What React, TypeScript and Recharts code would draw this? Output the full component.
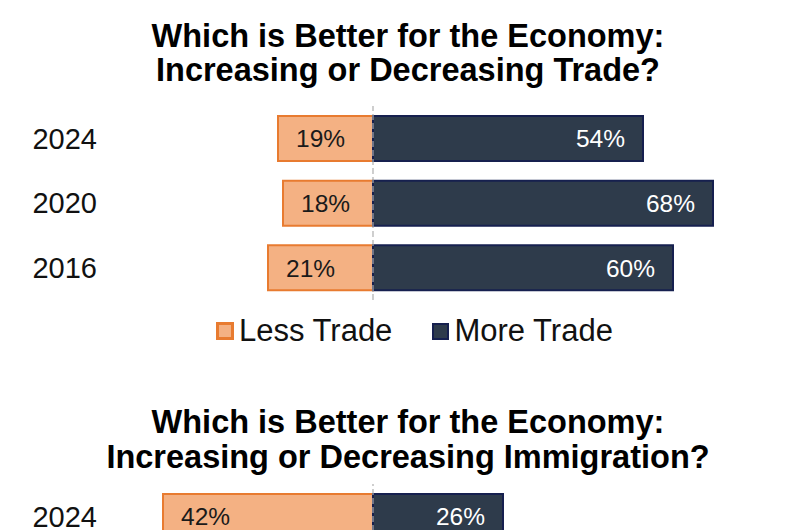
import { BarChart, Bar, XAxis, YAxis, ReferenceLine, LabelList, Legend } from "recharts";

const tradeYears = ["2024", "2020", "2016"];
const tradeLess = [19, 18, 21];
const tradeMore = [54, 68, 60];

const immYears = ["2024"];
const immLess = [42];
const immMore = [26];

const LESS_FILL = "#F4B183";
const LESS_STROKE = "#E87B30";
const MORE_FILL = "#2E3B4B";
const MORE_STROKE = "#16204F";
const FONT = "'Liberation Sans', Arial, sans-serif";

const toRows = (years: string[], less: number[], more: number[]) =>
  years.map((year, i) => ({ year, less: -less[i], more: more[i] }));

const YearTick = (props: any) => {
  const { x, y, payload } = props;
  return (
    <text x={x} y={y} dy="0.36em" textAnchor="end" fontSize={29} fill="#111" fontFamily={FONT}>
      {payload.value}
    </text>
  );
};

const LessLabel = (props: any) => {
  const { x, y, width, height, value } = props;
  const left = Math.min(x, x + width);
  return (
    <text x={left + 18} y={y + height / 2} dy="0.36em" textAnchor="start" fontSize={24.5} fill="#1a1a1a" fontFamily={FONT}>
      {Math.abs(value)}%
    </text>
  );
};

const MoreLabel = (props: any) => {
  const { x, y, width, height, value } = props;
  const right = Math.max(x, x + width);
  return (
    <text x={right - 18} y={y + height / 2} dy="0.36em" textAnchor="end" fontSize={24.5} fill="#fff" fontFamily={FONT}>
      {Math.abs(value)}%
    </text>
  );
};

const LegendBox = () => (
  <div style={{ display: "flex", alignItems: "center", fontFamily: FONT, fontSize: 31, color: "#111", lineHeight: "34px" }}>
    <span style={{ width: 12, height: 12, background: LESS_FILL, border: `3px solid ${LESS_STROKE}`, marginRight: 5 }} />
    <span>Less Trade</span>
    <span style={{ width: 13, height: 13, background: MORE_FILL, border: `2px solid ${MORE_STROKE}`, marginLeft: 40, marginRight: 5 }} />
    <span>More Trade</span>
  </div>
);

const Title = ({ top, lines, lh }: { top: number; lines: string[]; lh: number }) => (
  <div
    style={{
      position: "absolute",
      top,
      left: 0,
      width: 816,
      textAlign: "center",
      fontFamily: FONT,
      fontWeight: "bold",
      fontSize: 32.5,
      lineHeight: `${lh}px`,
      color: "#000",
    }}
  >
    {lines.map((l) => (
      <div key={l}>{l}</div>
    ))}
  </div>
);

function DivergingChart({
  rows,
  height,
  top,
  bottom,
  legend,
}: {
  rows: any[];
  height: number;
  top: number;
  bottom: number;
  legend?: boolean;
}) {
  return (
    <BarChart
      width={800}
      height={height}
      data={rows}
      layout="vertical"
      stackOffset="sign"
      barSize={45}
      margin={{ top, right: 27, bottom, left: 0 }}
    >
      <XAxis type="number" domain={[-50, 80]} hide />
      <YAxis
        type="category"
        dataKey="year"
        width={123}
        axisLine={false}
        tickLine={false}
        tickSize={0}
        tickMargin={26}
        tick={<YearTick />}
      />
      <ReferenceLine x={0} stroke="#AFAFAF" strokeWidth={1.2} strokeDasharray="6 3" />
      <Bar dataKey="less" stackId="a" fill={LESS_FILL} stroke={LESS_STROKE} strokeWidth={2} isAnimationActive={false}>
        <LabelList dataKey="less" content={<LessLabel />} />
      </Bar>
      <Bar dataKey="more" stackId="a" fill={MORE_FILL} stroke={MORE_STROKE} strokeWidth={2} isAnimationActive={false}>
        <LabelList dataKey="more" content={<MoreLabel />} />
      </Bar>
      {legend && (
        <Legend
          content={<LegendBox />}
          wrapperStyle={{ position: "absolute", top: 314, left: 216, width: 500 }}
        />
      )}
    </BarChart>
  );
}

export default function App() {
  return (
    <div
      style={{
        position: "absolute",
        top: 0,
        left: 0,
        width: 800,
        height: 530,
        overflow: "hidden",
        background: "#fff",
      }}
    >
      <Title top={19} lh={34} lines={["Which is Better for the Economy:", "Increasing or Decreasing Trade?"]} />
      <div style={{ position: "absolute", top: 0, left: 0 }}>
        <DivergingChart rows={toRows(tradeYears, tradeLess, tradeMore)} height={370} top={106} bottom={36} legend />
      </div>
      <Title top={405} lh={35} lines={["Which is Better for the Economy:", "Increasing or Decreasing Immigration?"]} />
      <div style={{ position: "absolute", top: 380, left: 0 }}>
        <DivergingChart rows={toRows(immYears, immLess, immMore)} height={169} top={104} bottom={0} />
      </div>
    </div>
  );
}
